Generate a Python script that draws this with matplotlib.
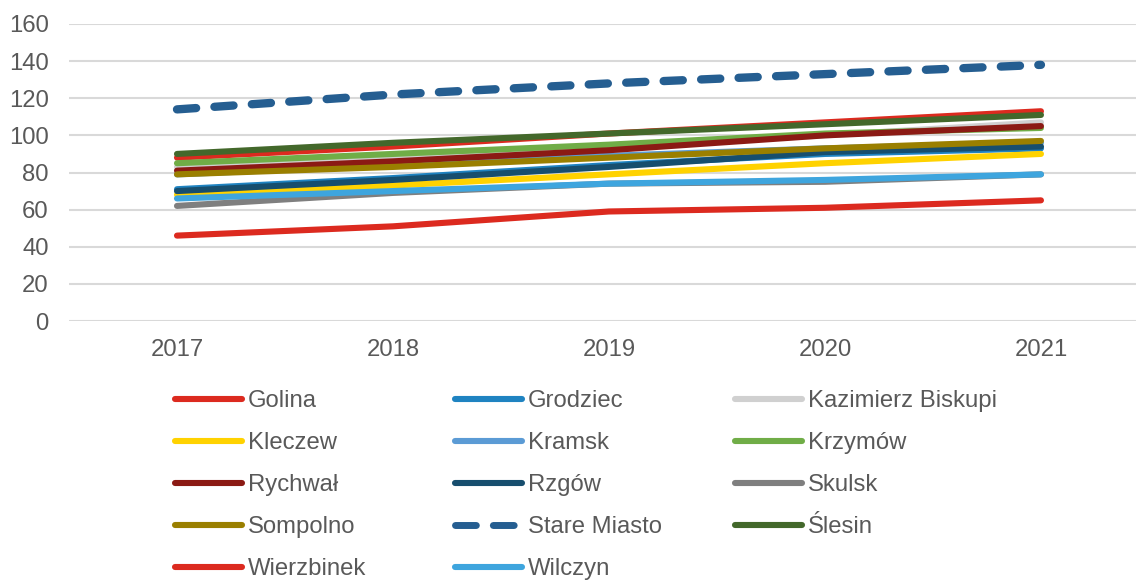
import matplotlib
matplotlib.use("Agg")
import matplotlib.pyplot as plt
from matplotlib.lines import Line2D

plt.rcParams["font.family"] = ["Liberation Sans", "DejaVu Sans"]

years = ["2017", "2018", "2019", "2020", "2021"]

golina = [88, 94, 101, 107, 113]
grodziec = [71, 77, 84, 90, 93]
kazimierz_biskupi = [83, 88, 94, 100, 107]
kleczew = [68, 73, 79, 85, 90]
kramsk = [79, 84, 89, 93, 96]
krzymow = [85, 90, 95, 101, 104]
rychwal = [81, 86, 92, 100, 105]
rzgow = [70, 76, 83, 91, 94]
skulsk = [62, 69, 74, 75, 79]
sompolno = [79, 83, 88, 93, 97]
stare_miasto = [114, 122, 128, 133, 138]
slesin = [90, 96, 101, 106, 111]
wierzbinek = [46, 51, 59, 61, 65]
wilczyn = [66, 70, 74, 76, 79]

series = [
    ("Golina", golina, "#DC2A1F", "-"),
    ("Grodziec", grodziec, "#1F83C1", "-"),
    ("Kazimierz Biskupi", kazimierz_biskupi, "#D0D0D0", "-"),
    ("Kleczew", kleczew, "#FFD200", "-"),
    ("Kramsk", kramsk, "#5B9BD5", "-"),
    ("Krzymów", krzymow, "#70AD47", "-"),
    ("Rychwał", rychwal, "#8B1A14", "-"),
    ("Rzgów", rzgow, "#174E6E", "-"),
    ("Skulsk", skulsk, "#7F7F7F", "-"),
    ("Sompolno", sompolno, "#9A7F00", "-"),
    ("Stare Miasto", stare_miasto, "#255E91", "--"),
    ("Ślesin", slesin, "#43682B", "-"),
    ("Wierzbinek", wierzbinek, "#DC2A1F", "-"),
    ("Wilczyn", wilczyn, "#3EA5DE", "-"),
]

W, H = 1136, 581
txt = "#595959"
fs = 17.2
lw = 4.4
fig = plt.figure(figsize=(W / 100, H / 100), dpi=100)
ax = fig.add_axes([69 / W, 1 - 321 / H, 1 - 69 / W, 297 / H])

x = list(range(len(years)))
for name, vals, col, ls in series:
    if ls == "--":
        ax.plot(x, vals, color=col, lw=6, linestyle=(0, (2.3, 2.2)),
                dash_capstyle="round")
    else:
        ax.plot(x, vals, color=col, lw=lw, solid_capstyle="round")

ax.set_xlim(-0.5, 4.44)
ax.set_ylim(0, 160)
ax.set_yticks(range(0, 161, 20))
ax.set_xticks(x)
ax.set_xticklabels(years)
ax.grid(axis="y", color="#D9D9D9", lw=1.5)
ax.set_axisbelow(True)
for s in ax.spines.values():
    s.set_visible(False)
ax.tick_params(axis="both", length=0, labelsize=fs, colors=txt)
ax.tick_params(axis="y", pad=14.5)
ax.tick_params(axis="x", pad=13)

# legend: entries go row by row over 3 columns, one legend per column
col_x = [175, 455, 735]
for c in range(3):
    hs, names = [], []
    for i in range(c, len(series), 3):
        name, vals, col, ls = series[i]
        if ls == "--":
            hs.append(Line2D([], [], color=col, lw=5, linestyle=(0, (3.0, 2.45)),
                             dash_capstyle="round"))
        else:
            hs.append(Line2D([], [], color=col, lw=lw, solid_capstyle="round"))
        names.append(name)
    leg = fig.legend(hs, names, loc="upper left",
                     bbox_to_anchor=(col_x[c] / W, 1 - 390 / H),
                     frameon=False, fontsize=fs, handlelength=2.8,
                     handletextpad=0.25, labelspacing=0.84, borderpad=0,
                     borderaxespad=0)
    for t in leg.get_texts():
        t.set_color(txt)

fig.savefig("out.png", dpi=100)
